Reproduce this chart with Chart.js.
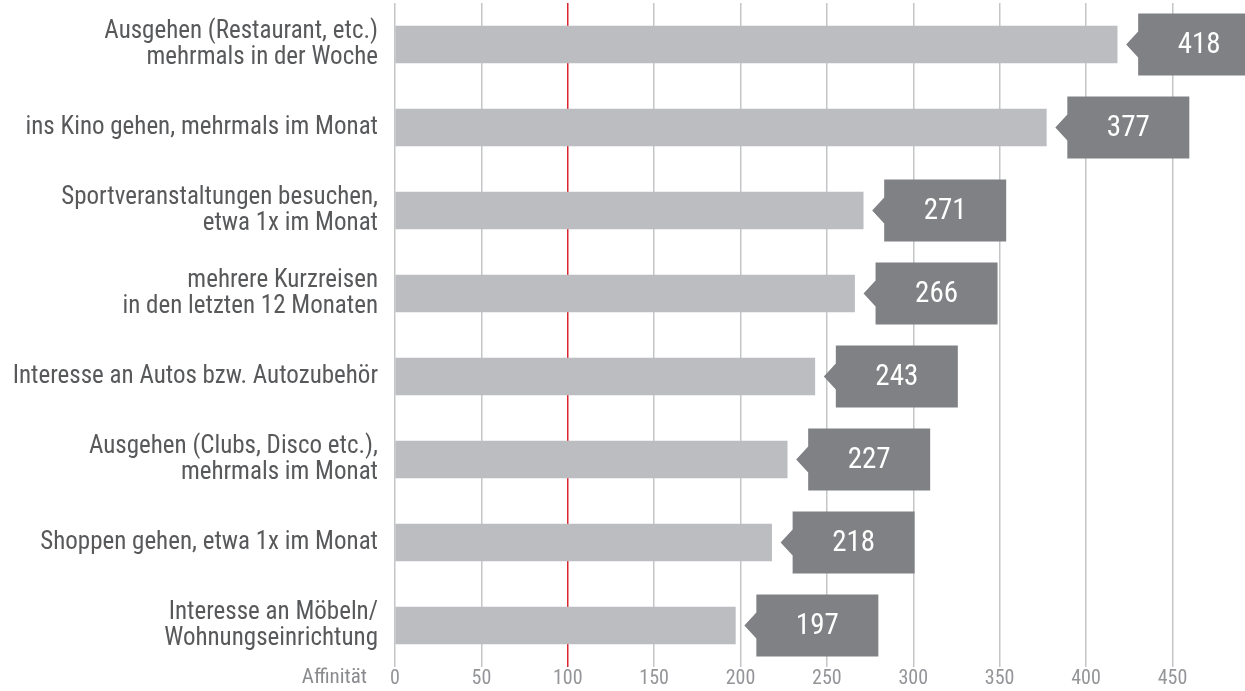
<!DOCTYPE html>
<html>
<head>
<meta charset="utf-8">
<script src="https://cdn.jsdelivr.net/npm/chart.js@4.4.0/dist/chart.umd.min.js"></script>
<style>
  html, body { margin: 0; padding: 0; background: #fff; }
  #wrap { width: 1245px; height: 691px; }
</style>
</head>
<body>
<div id="wrap"><canvas id="affinityChart" width="1245" height="691"></canvas></div>
<script>
// Daten
const categories = [
  ["Ausgehen (Restaurant, etc.)", "mehrmals in der Woche"],
  "ins Kino gehen, mehrmals im Monat",
  ["Sportveranstaltungen besuchen,", "etwa 1x im Monat"],
  ["mehrere Kurzreisen", "in den letzten 12 Monaten"],
  "Interesse an Autos bzw. Autozubehör",
  ["Ausgehen (Clubs, Disco etc.),", "mehrmals im Monat"],
  "Shoppen gehen, etwa 1x im Monat",
  ["Interesse an Möbeln/", "Wohnungseinrichtung"],
];
const affinity = [418, 377, 271, 266, 243, 227, 218, 197];
const axisTitle = "Affinität";

const FONT = '"Roboto Condensed", "Liberation Sans Narrow", "DejaVu Sans Condensed", Roboto, sans-serif';

// Wertekästchen mit Pfeil rechts vom Balken
const badgePlugin = {
  id: "badges",
  afterDatasetsDraw(chart) {
    const ctx = chart.ctx;
    const meta = chart.getDatasetMeta(0);
    ctx.save();
    meta.data.forEach((bar, i) => {
      const tip = bar.x + 9;
      const left = tip + 12;
      const w = 122, h = 62;
      ctx.fillStyle = "#808184";
      ctx.beginPath();
      ctx.moveTo(tip, bar.y);
      ctx.lineTo(left, bar.y - 13);
      ctx.lineTo(left, bar.y - h / 2);
      ctx.lineTo(left + w, bar.y - h / 2);
      ctx.lineTo(left + w, bar.y + h / 2);
      ctx.lineTo(left, bar.y + h / 2);
      ctx.lineTo(left, bar.y + 13);
      ctx.closePath();
      ctx.fill();
      ctx.fillStyle = "#fff";
      ctx.font = "29px " + FONT;
      ctx.textAlign = "center";
      ctx.textBaseline = "middle";
      ctx.fillText(String(affinity[i]), left + w / 2, bar.y + 1);
    });
    // Achsentitel
    const xs = chart.scales.x;
    ctx.fillStyle = "#8a8b8e";
    ctx.font = "21px " + FONT;
    ctx.textAlign = "right";
    ctx.textBaseline = "middle";
    ctx.fillText(axisTitle, chart.chartArea.left - 28, xs.top + 11);
    ctx.restore();
  },
};

new Chart(document.getElementById("affinityChart"), {
  type: "bar",
  data: {
    labels: categories,
    datasets: [
      {
        data: affinity,
        backgroundColor: "#bcbdc1",
        barThickness: 37,
      },
    ],
  },
  options: {
    indexAxis: "y",
    responsive: false,
    animation: false,
    layout: { padding: { top: 3, bottom: 0, right: 0, left: 0 } },
    plugins: { legend: { display: false }, tooltip: { enabled: false } },
    scales: {
      x: {
        min: 0,
        max: 492,
        afterBuildTicks: (axis) => {
          axis.ticks = axis.ticks.filter((t) => t.value % 50 === 0);
        },
        ticks: {
          stepSize: 50,
          color: "#939598",
          padding: 0,
          font: { family: FONT, size: 20 },
        },
        grid: {
          drawTicks: false,
          lineWidth: 1.5,
          color: (c) => (c.tick && c.tick.value === 100 ? "#d9252e" : "#c4c5c7"),
        },
        border: { display: false },
      },
      y: {
        afterFit: (scale) => {
          scale.width = 395;
          scale.paddingTop = 0;
          scale.paddingBottom = 0;
        },
        ticks: {
          color: "#58595b",
          padding: 17,
          font: { family: FONT, size: 25, lineHeight: 1.04 },
        },
        grid: { display: false, drawTicks: false },
        border: { display: false },
      },
    },
  },
  plugins: [badgePlugin],
});
</script>
</body>
</html>
